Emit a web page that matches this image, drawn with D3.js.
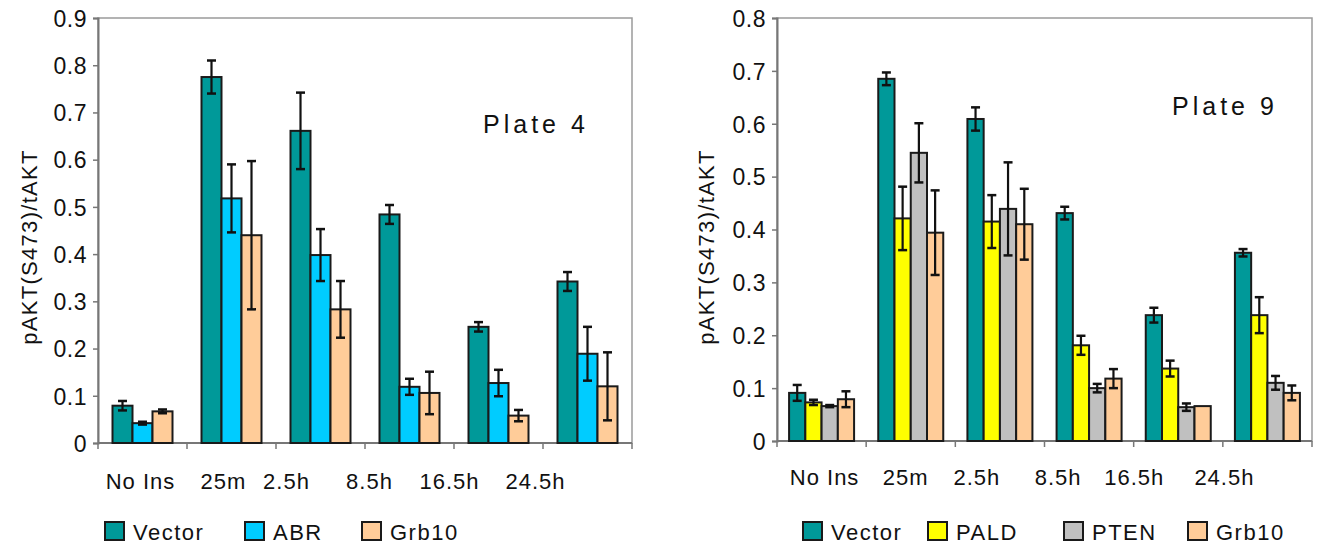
<!DOCTYPE html>
<html>
<head>
<meta charset="utf-8">
<script src="https://cdn.jsdelivr.net/npm/d3@7"></script>
<style>
  body { margin: 0; background: #fff; }
  text { font-family: "Liberation Sans", Arial, sans-serif; fill: #111; }
</style>
</head>
<body>
<script>
var w = 1339;
var h = 546;

var categories = ["No Ins", "25m", "2.5h", "8.5h", "16.5h", "24.5h"];

// Plate 4
var p4Series = ["Vector", "ABR", "Grb10"];
var p4Vector = [0.079, 0.775, 0.661, 0.484, 0.246, 0.342];
var p4VectorErr = [0.010, 0.035, 0.081, 0.020, 0.010, 0.020];
var p4ABR = [0.042, 0.518, 0.398, 0.119, 0.127, 0.189];
var p4ABRErr = [0.003, 0.072, 0.055, 0.017, 0.028, 0.057];
var p4Grb10 = [0.067, 0.440, 0.283, 0.106, 0.058, 0.120];
var p4Grb10Err = [0.004, 0.157, 0.060, 0.045, 0.012, 0.072];
var p4Ticks = [0, 0.1, 0.2, 0.3, 0.4, 0.5, 0.6, 0.7, 0.8, 0.9];

// Plate 9
var p9Series = ["Vector", "PALD", "PTEN", "Grb10"];
var p9Vector = [0.091, 0.685, 0.609, 0.431, 0.238, 0.356];
var p9VectorErr = [0.015, 0.012, 0.022, 0.012, 0.014, 0.007];
var p9PALD = [0.073, 0.421, 0.415, 0.181, 0.137, 0.238];
var p9PALDErr = [0.005, 0.060, 0.050, 0.018, 0.015, 0.034];
var p9PTEN = [0.066, 0.545, 0.439, 0.100, 0.064, 0.110];
var p9PTENErr = [0.002, 0.056, 0.088, 0.008, 0.007, 0.013];
var p9Grb10 = [0.079, 0.394, 0.410, 0.118, 0.066, 0.091];
var p9Grb10Err = [0.015, 0.080, 0.067, 0.018, 0, 0.014];
var p9Ticks = [0, 0.1, 0.2, 0.3, 0.4, 0.5, 0.6, 0.7, 0.8];

var colors = {"Vector": "#009999", "ABR": "#00CCFF", "Grb10": "#FFCC99",
              "PALD": "#FFFF00", "PTEN": "#C0C0C0"};

var svg = d3.select("body").append("svg")
  .attr("width", w)
  .attr("height", h);

function drawPanel(p) {
  var g = svg.append("g");

  var y = d3.scaleLinear()
    .domain([0, d3.max(p.ticks)])
    .range([p.bottom, p.top]);

  var x0 = d3.scaleBand()
    .domain(categories)
    .range([p.left, p.right]);

  var x1 = d3.scaleBand()
    .domain(p.series)
    .range([0, p.groupW]);
  var off = (x0.bandwidth() - p.groupW) / 2;

  // plot area border
  g.append("rect")
    .attr("x", p.left).attr("y", p.top)
    .attr("width", p.right - p.left).attr("height", p.bottom - p.top)
    .attr("fill", "none")
    .attr("stroke", "#9a9a9a")
    .attr("stroke-width", 1.5);

  // y axis
  var yAxis = d3.axisLeft(y)
    .tickValues(p.ticks)
    .tickSize(5)
    .tickPadding(6)
    .tickFormat(function(d){ return d === 0 ? "0" : d.toFixed(1); });
  var ya = g.append("g")
    .attr("transform", "translate(" + p.left + ",0)")
    .call(yAxis);
  ya.select(".domain").attr("stroke", "#777").attr("stroke-width", 2);
  ya.selectAll(".tick line").attr("stroke", "#777").attr("stroke-width", 1.5);
  ya.selectAll(".tick text")
    .attr("font-size", "23px")
    .attr("letter-spacing", "0.5px")
    .attr("font-family", "Liberation Sans, Arial, sans-serif")
    .attr("fill", "#111")
    .attr("dy", "0.36em");

  // x axis line + boundary ticks
  g.append("line")
    .attr("x1", p.left).attr("x2", p.right)
    .attr("y1", p.bottom).attr("y2", p.bottom)
    .attr("stroke", "#777").attr("stroke-width", 2);
  var bounds = categories.map(function(c){ return x0(c); }).concat([p.right]);
  g.selectAll(".xtick")
    .data(bounds)
    .enter()
    .append("line")
    .attr("x1", function(d){ return d; })
    .attr("x2", function(d){ return d; })
    .attr("y1", p.bottom)
    .attr("y2", p.bottom + 6)
    .attr("stroke", "#777")
    .attr("stroke-width", 1.5);

  // category labels
  g.selectAll(".cat")
    .data(categories)
    .enter()
    .append("text")
    .text(function(d){ return d; })
    .attr("x", function(d, i){ return x0(d) + x0.bandwidth() / 2 + p.labelNudge[i]; })
    .attr("y", p.labelY)
    .attr("font-size", "22px")
    .attr("letter-spacing", "1px")
    .attr("text-anchor", "middle");

  // bars
  var rows = [];
  p.series.forEach(function(s, si){
    categories.forEach(function(c, ci){
      rows.push({s: s, c: c, v: p.values[si][ci], e: p.errors[si][ci]});
    });
  });

  g.selectAll(".bar")
    .data(rows)
    .enter()
    .append("rect")
    .attr("x", function(d){ return x0(d.c) + off + x1(d.s); })
    .attr("y", function(d){ return y(d.v); })
    .attr("width", x1.bandwidth())
    .attr("height", function(d){ return y(0) - y(d.v); })
    .attr("fill", function(d){ return colors[d.s]; })
    .attr("stroke", "#1a1a1a")
    .attr("stroke-width", 2);

  // error bars
  var eb = g.selectAll(".err")
    .data(rows.filter(function(d){ return d.e > 0; }))
    .enter()
    .append("g")
    .attr("transform", function(d){
      return "translate(" + (x0(d.c) + off + x1(d.s) + x1.bandwidth() / 2) + ",0)";
    });
  eb.append("line")
    .attr("y1", function(d){ return y(d.v + d.e); })
    .attr("y2", function(d){ return y(d.v - d.e); })
    .attr("stroke", "#111").attr("stroke-width", 2.2);
  eb.append("line")
    .attr("x1", -4.5).attr("x2", 4.5)
    .attr("y1", function(d){ return y(d.v + d.e); })
    .attr("y2", function(d){ return y(d.v + d.e); })
    .attr("stroke", "#111").attr("stroke-width", 2.5);
  eb.append("line")
    .attr("x1", -4.5).attr("x2", 4.5)
    .attr("y1", function(d){ return y(d.v - d.e); })
    .attr("y2", function(d){ return y(d.v - d.e); })
    .attr("stroke", "#111").attr("stroke-width", 2.5);

  // y title
  g.append("text")
    .text("pAKT(S473)/tAKT")
    .attr("transform", "translate(" + p.titleX + "," + p.titleY + ") rotate(-90)")
    .attr("text-anchor", "middle")
    .attr("font-size", "22px")
    .attr("letter-spacing", "1.3px");

  // plate label
  g.append("text")
    .text(p.plate)
    .attr("x", p.plateX)
    .attr("y", p.plateY)
    .attr("font-size", "25px")
    .attr("letter-spacing", "4px");

  // legend
  var lg = g.selectAll(".leg")
    .data(p.series)
    .enter()
    .append("g")
    .attr("transform", function(d, i){ return "translate(" + p.legendX[i] + ",522)"; });
  lg.append("rect")
    .attr("width", 19).attr("height", 18)
    .attr("fill", function(d){ return colors[d]; })
    .attr("stroke", "#1a1a1a").attr("stroke-width", 2);
  lg.append("text")
    .text(function(d){ return d; })
    .attr("x", 28)
    .attr("y", 18)
    .attr("font-size", "22px")
    .attr("letter-spacing", "1.5px");
}

drawPanel({
  series: p4Series,
  values: [p4Vector, p4ABR, p4Grb10],
  errors: [p4VectorErr, p4ABRErr, p4Grb10Err],
  ticks: p4Ticks,
  left: 98, right: 632, top: 18, bottom: 443,
  groupW: 60,
  labelNudge: [-2, -8, -34, -40, -49, -52],
  labelY: 489,
  titleX: 37, titleY: 247,
  plate: "Plate 4", plateX: 483, plateY: 133,
  legendX: [105, 245, 362]
});

drawPanel({
  series: p9Series,
  values: [p9Vector, p9PALD, p9PTEN, p9Grb10],
  errors: [p9VectorErr, p9PALDErr, p9PTENErr, p9Grb10Err],
  ticks: p9Ticks,
  left: 777, right: 1312, top: 18, bottom: 441,
  groupW: 65,
  labelNudge: [3, -5, -23, -31, -44, -43],
  labelY: 485,
  titleX: 714, titleY: 247,
  plate: "Plate 9", plateX: 1172, plateY: 115,
  legendX: [803, 928, 1064, 1188]
});
</script>
</body>
</html>
